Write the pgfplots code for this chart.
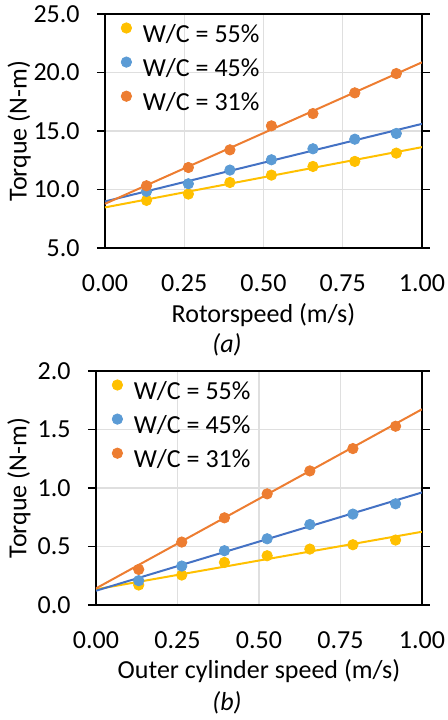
\documentclass[border=0pt]{standalone}
\usepackage{pgfplots}
\pgfplotsset{compat=1.18}
\usepackage{fontspec}
\setmainfont{Carlito}

\definecolor{xlyellow}{HTML}{FFC000}
\definecolor{xlblue}{HTML}{5B9BD5}
\definecolor{xlblueline}{HTML}{4472C4}
\definecolor{xlorange}{HTML}{ED7D31}

\pgfplotsset{
  torque/.style={
    scale only axis, height=117pt,
    xmin=0, xmax=1, xtick={0,0.25,0.5,0.75,1},
    /pgf/number format/assume math mode=true,
    xticklabel style={/pgf/number format/fixed,/pgf/number format/fixed zerofill,/pgf/number format/precision=2,anchor=base,inner sep=0pt,yshift=-17.8pt},
    yticklabel style={/pgf/number format/fixed,/pgf/number format/fixed zerofill,/pgf/number format/precision=1,anchor=east,inner sep=0pt,xshift=-8.5pt},
    tick label style={font=\fontsize{13}{15}\selectfont},
    label style={font=\fontsize{13}{15}\selectfont},
    axis line style={black,line width=1pt},
    grid=major, grid style={gray!25,line width=0.6pt},
    major x tick style={draw=none},
    major y tick style={black,line width=0.8pt},
    tick align=outside, major tick length=4pt,
    legend cell align=left,
    legend style={draw=none,fill=none,font=\fontsize{13}{15}\selectfont,
      at={(axis description cs:0,1)},anchor=north west,xshift=7.9pt,yshift=-4.2pt,
      inner sep=0pt,row sep=4.25pt,
      nodes={inner sep=0pt,text height=9pt,text depth=3pt},
      /tikz/every odd column/.append style={column sep=5.6pt}},
    legend image code/.code={\draw[#1] plot coordinates {(0pt,4.2pt)};},
    trend/.style={line width=1pt,forget plot},
    pts/.style={only marks,mark=*,mark size=2.6pt},
  }
}

\begin{document}
\begin{tikzpicture}
\useasboundingbox (0,0) rectangle (223.5pt,360pt);

% panel (a)
\begin{axis}[torque, at={(52.5pt,236pt)}, anchor=south west, width=158.5pt,
  ymin=5, ymax=25, ytick={5,10,15,20,25},
  xlabel={Rotorspeed (m/s)}, ylabel={Torque (N-m)},
  xlabel style={at={(axis description cs:0.5,-0.3205)},anchor=base},
  ylabel style={at={(axis description cs:-0.2476,0.5)},anchor=base}]
\addplot[trend,xlyellow] coordinates {(0,8.47) (1,13.62)};
\addplot[trend,xlblueline] coordinates {(0,8.98) (1,15.61)};
\addplot[trend,xlorange] coordinates {(0,8.78) (1,20.87)};
\addplot[pts,xlyellow] coordinates {(0.131,9.07) (0.263,9.61) (0.394,10.60) (0.525,11.23) (0.656,11.97) (0.788,12.40) (0.919,13.11)};
\addlegendentry{W/C = 55\%}
\addplot[pts,xlblue] coordinates {(0.131,9.84) (0.263,10.49) (0.394,11.66) (0.525,12.54) (0.656,13.48) (0.788,14.30) (0.919,14.79)};
\addlegendentry{W/C = 45\%}
\addplot[pts,xlorange] coordinates {(0.131,10.32) (0.263,11.88) (0.394,13.39) (0.525,15.44) (0.656,16.49) (0.788,18.26) (0.919,19.91)};
\addlegendentry{W/C = 31\%}
\end{axis}

% panel (b)
\begin{axis}[torque, at={(48pt,57.5pt)}, anchor=south west, width=163pt,
  ymin=0, ymax=2, ytick={0,0.5,1,1.5,2},
  xlabel={Outer cylinder speed (m/s)}, ylabel={Torque (N-m)},
  xlabel style={at={(axis description cs:0.5,-0.312)},anchor=base},
  ylabel style={at={(axis description cs:-0.2132,0.5)},anchor=base}]
\addplot[trend,xlyellow] coordinates {(0,0.134) (1,0.626)};
\addplot[trend,xlblueline] coordinates {(0,0.122) (1,0.962)};
\addplot[trend,xlorange] coordinates {(0,0.142) (1,1.673)};
\addplot[pts,xlyellow] coordinates {(0.131,0.171) (0.263,0.256) (0.394,0.364) (0.525,0.421) (0.656,0.478) (0.788,0.515) (0.919,0.555)};
\addlegendentry{W/C = 55\%}
\addplot[pts,xlblue] coordinates {(0.131,0.208) (0.263,0.333) (0.394,0.464) (0.525,0.566) (0.656,0.688) (0.788,0.777) (0.919,0.865)};
\addlegendentry{W/C = 45\%}
\addplot[pts,xlorange] coordinates {(0.131,0.304) (0.263,0.538) (0.394,0.745) (0.525,0.950) (0.656,1.146) (0.788,1.337) (0.919,1.528)};
\addlegendentry{W/C = 31\%}
\end{axis}

\node[anchor=base,font=\fontsize{13}{15}\selectfont\itshape] at (113.5pt,184pt) {(a)};
\node[anchor=base,font=\fontsize{13}{15}\selectfont\itshape] at (113.5pt,5pt) {(b)};
\end{tikzpicture}
\end{document}
